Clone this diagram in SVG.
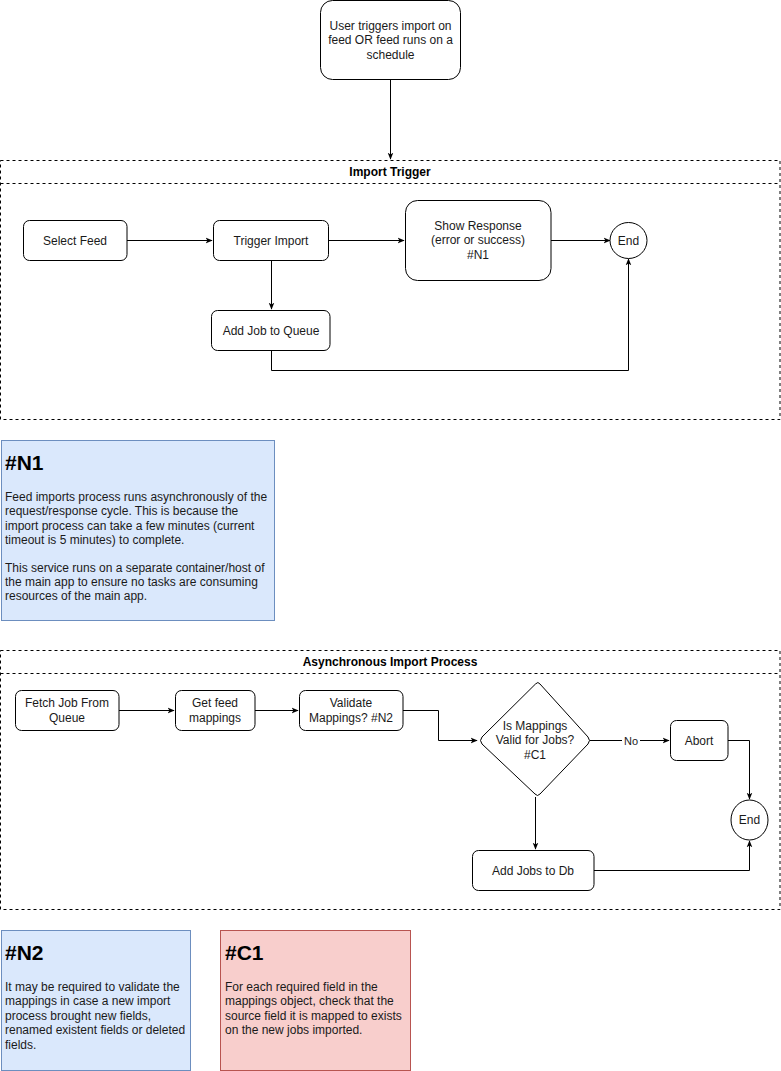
<svg xmlns="http://www.w3.org/2000/svg" width="781" height="1071" viewBox="0 0 781 1071">
<style>
  text { font-family: "Liberation Sans", Arial, sans-serif; fill: #000; }
  .lbl { font-size: 12px; text-anchor: middle; fill: #1a1a1a; }
  .node { fill: #fff; stroke: #000; stroke-width: 1; }
  .cont { fill: none; stroke: #000; stroke-width: 1; stroke-dasharray: 3 3; }
  .ttl { font-size: 12px; font-weight: bold; text-anchor: middle; }
  .edge { fill: none; stroke: #000; stroke-width: 1; marker-end: url(#arr); }
  .nh { font-size: 21px; font-weight: bold; }
  .nb { font-size: 12px; fill: #1a1a1a; }
</style>
<defs>
  <marker id="arr" viewBox="0 0 10 10" refX="9" refY="5" markerWidth="7" markerHeight="7" orient="auto" markerUnits="userSpaceOnUse">
    <path d="M0,1 L10,5 L0,9 L2.5,5 Z" fill="#000"/>
  </marker>
</defs>
<rect width="781" height="1071" fill="#fff"/>

<g id="container-import-trigger">
  <rect class="cont" x="0.5" y="160.5" width="779.5" height="259"/>
  <line class="cont" x1="0.5" y1="183.5" x2="780" y2="183.5"/>
  <text class="ttl" x="390" y="176">Import Trigger</text>
</g>
<g id="container-async">
  <rect class="cont" x="0.5" y="650.5" width="779.5" height="259"/>
  <line class="cont" x1="0.5" y1="673.5" x2="780" y2="673.5"/>
  <text class="ttl" x="390" y="666">Asynchronous Import Process</text>
</g>

<g id="connectors">
  <path class="edge" d="M390.5,80 L390.5,159"/>
  <path class="edge" d="M127,240.5 L212,240.5"/>
  <path class="edge" d="M329,240.5 L404,240.5"/>
  <path class="edge" d="M551,240.5 L610,240.5"/>
  <path class="edge" d="M271.5,260 L271.5,309"/>
  <path class="edge" d="M271.5,350 L271.5,370.5 L628.5,370.5 L628.5,259"/>
  <path class="edge" d="M119,710.5 L174,710.5"/>
  <path class="edge" d="M255,710.5 L298,710.5"/>
  <path class="edge" d="M403,710.5 L438.5,710.5 L438.5,740.5 L477,740.5"/>
  <path class="edge" d="M590,740.5 L669,740.5"/>
  <rect x="622" y="733" width="18" height="14" fill="#fff"/>
  <text x="631" y="744.5" style="font-size:11px;text-anchor:middle;fill:#1a1a1a">No</text>
  <path class="edge" d="M728,740.5 L749.5,740.5 L749.5,799"/>
  <path class="edge" d="M535.5,797 L535.5,849"/>
  <path class="edge" d="M594,870.5 L749.5,870.5 L749.5,841"/>
</g>

<g id="node-start">
  <rect class="node" x="320.5" y="0.5" width="140" height="79" rx="12"/>
  <text class="lbl" x="390.5" y="30">User triggers import on</text>
  <text class="lbl" x="390.5" y="44">feed OR feed runs on a</text>
  <text class="lbl" x="390.5" y="59">schedule</text>
</g>
<g id="node-select-feed">
  <rect class="node" x="23.5" y="220.5" width="103.5" height="40" rx="6"/>
  <text class="lbl" x="75" y="244.5">Select Feed</text>
</g>
<g id="node-trigger-import">
  <rect class="node" x="213.5" y="220.5" width="115" height="40" rx="6"/>
  <text class="lbl" x="271" y="244.5">Trigger Import</text>
</g>
<g id="node-show-response">
  <rect class="node" x="405.5" y="200.5" width="145.5" height="80" rx="12"/>
  <text class="lbl" x="478" y="230">Show Response</text>
  <text class="lbl" x="478" y="244">(error or success)</text>
  <text class="lbl" x="478" y="259">#N1</text>
</g>
<g id="node-end1">
  <ellipse class="node" cx="628.5" cy="240.5" rx="18.5" ry="18"/>
  <text class="lbl" x="628.5" y="244.5">End</text>
</g>
<g id="node-add-job-queue">
  <rect class="node" x="211.5" y="310.5" width="118.5" height="40" rx="6"/>
  <text class="lbl" x="271" y="334.5">Add Job to Queue</text>
</g>

<g id="note-n1">
  <rect x="1.5" y="440.5" width="273" height="180" fill="#dae8fc" stroke="#6c8ebf"/>
  <text class="nh" x="5" y="470">#N1</text>
  <text class="nb" x="5" y="501">Feed imports process runs asynchronously of the</text>
  <text class="nb" x="5" y="515">request/response cycle. This is because the</text>
  <text class="nb" x="5" y="530">import process can take a few minutes (current</text>
  <text class="nb" x="5" y="544">timeout is 5 minutes) to complete.</text>
  <text class="nb" x="5" y="572">This service runs on a separate container/host of</text>
  <text class="nb" x="5" y="586">the main app to ensure no tasks are consuming</text>
  <text class="nb" x="5" y="600">resources of the main app.</text>
</g>

<g id="node-fetch-job">
  <rect class="node" x="15.5" y="690.5" width="103.5" height="40" rx="6"/>
  <text class="lbl" x="67" y="707">Fetch Job From</text>
  <text class="lbl" x="67" y="722">Queue</text>
</g>
<g id="node-get-mappings">
  <rect class="node" x="175.5" y="690.5" width="79.5" height="40" rx="6"/>
  <text class="lbl" x="215" y="707">Get feed</text>
  <text class="lbl" x="215" y="722">mappings</text>
</g>
<g id="node-validate">
  <rect class="node" x="299.5" y="690.5" width="103.5" height="40" rx="6"/>
  <text class="lbl" x="351" y="707">Validate</text>
  <text class="lbl" x="351" y="722">Mappings? #N2</text>
</g>
<g id="node-decision">
  <path class="node" d="M535.5,684 Q538,681 540,684 L588,737 Q591,740.5 588,744 L540,794 Q537.5,797 535,794 L482,744 Q479,740.5 482,737 Z"/>
  <text class="lbl" x="535" y="730">Is Mappings</text>
  <text class="lbl" x="535" y="744">Valid for Jobs?</text>
  <text class="lbl" x="535" y="759">#C1</text>
</g>
<g id="node-abort">
  <rect class="node" x="670.5" y="720.5" width="57.5" height="40" rx="6"/>
  <text class="lbl" x="699" y="744.5">Abort</text>
</g>
<g id="node-end2">
  <ellipse class="node" cx="749.5" cy="820" rx="18.5" ry="20"/>
  <text class="lbl" x="749.5" y="824">End</text>
</g>
<g id="node-add-jobs-db">
  <rect class="node" x="472.5" y="850.5" width="121.5" height="40" rx="6"/>
  <text class="lbl" x="533" y="874.5">Add Jobs to Db</text>
</g>

<g id="note-n2">
  <rect x="1.5" y="930.5" width="189" height="140" fill="#dae8fc" stroke="#6c8ebf"/>
  <text class="nh" x="5" y="960">#N2</text>
  <text class="nb" x="5" y="991">It may be required to validate the</text>
  <text class="nb" x="5" y="1005">mappings in case a new import</text>
  <text class="nb" x="5" y="1020">process brought new fields,</text>
  <text class="nb" x="5" y="1034">renamed existent fields or deleted</text>
  <text class="nb" x="5" y="1049">fields.</text>
</g>
<g id="note-c1">
  <rect x="220.5" y="930.5" width="190" height="140" fill="#f8cecc" stroke="#b85450"/>
  <text class="nh" x="225" y="960">#C1</text>
  <text class="nb" x="225" y="991">For each required field in the</text>
  <text class="nb" x="225" y="1005">mappings object, check that the</text>
  <text class="nb" x="225" y="1020">source field it is mapped to exists</text>
  <text class="nb" x="225" y="1034">on the new jobs imported.</text>
</g>
</svg>
